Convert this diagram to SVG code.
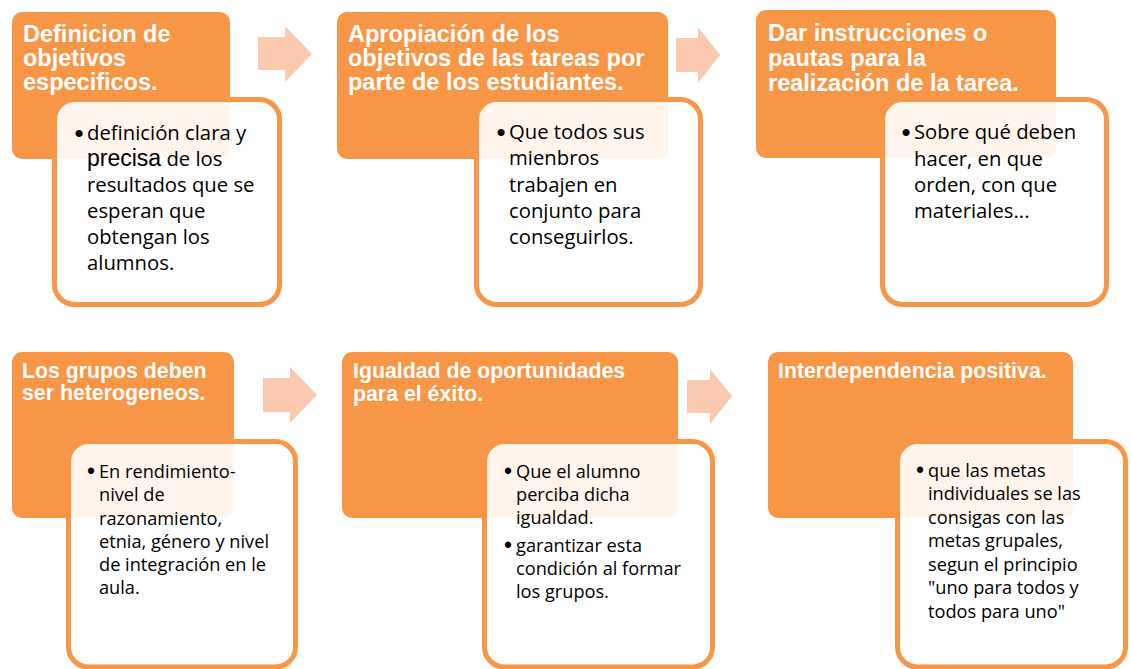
<svg xmlns="http://www.w3.org/2000/svg" width="1131" height="669" viewBox="0 0 1131 669">
<style>
.main{fill:#F79646;}
.sub{fill:#FFFFFF;fill-opacity:0.9;stroke:#F79646;stroke-width:5;}
.arrow{fill:#FAC9AE;}
.t1{font-family:"Liberation Sans",Arial,sans-serif;font-weight:bold;font-size:23.5px;fill:#FFFFFF;}
.t2{font-family:"Liberation Sans",Arial,sans-serif;font-weight:bold;font-size:21.3px;fill:#FFFFFF;}
.b1{font-family:"Open Sans",Lato,sans-serif;font-size:20.3px;fill:#000000;}
.b2{font-family:"Open Sans",Lato,sans-serif;font-size:18.2px;fill:#000000;}
.bu1{font-family:"Liberation Sans",Arial,sans-serif;font-size:26px;fill:#000000;}
.bu2{font-family:"Liberation Sans",Arial,sans-serif;font-size:23px;fill:#000000;}
</style>
<rect width="1131" height="669" fill="#FFFFFF"/>
<g id="connectors">
<polygon class="arrow" points="258,37 285,37 285,26 312,54 285,82 285,70 258,70"/>
<polygon class="arrow" points="676,38 698,38 698,27 720,55 698,83 698,72 676,72"/>
<polygon class="arrow" points="263,378 290,378 290,367 317,395 290,423 290,412 263,412"/>
<polygon class="arrow" points="687,380 710,380 710,369 732,396 710,424 710,413 687,413"/>
</g>
<g id="node1">
<rect class="main" x="12" y="12" width="218" height="147" rx="10"/>
<text class="t1"><tspan x="23" y="42">Definicion de</tspan><tspan x="23" y="66">objetivos</tspan><tspan x="23" y="90">especificos.</tspan></text>
<rect class="sub" x="54.5" y="99.5" width="225" height="205" rx="20"/>
<text class="bu1" x="74.5" y="142">•</text>
<text class="b1"><tspan x="87" y="140">definición clara y</tspan><tspan x="87" y="166"><tspan font-family="Liberation Sans" font-size="23">precisa</tspan> de los</tspan><tspan x="87" y="192">resultados que se</tspan><tspan x="87" y="218">esperan que</tspan><tspan x="87" y="244">obtengan los</tspan><tspan x="87" y="270">alumnos.</tspan></text>
</g>
<g id="node2">
<rect class="main" x="337" y="12" width="331" height="147" rx="10"/>
<text class="t1"><tspan x="348" y="42">Apropiación de los</tspan><tspan x="348" y="66">objetivos de las tareas por</tspan><tspan x="348" y="90">parte de los estudiantes.</tspan></text>
<rect class="sub" x="476.5" y="99.5" width="224" height="205" rx="20"/>
<text class="bu1" x="496.5" y="141">•</text>
<text class="b1"><tspan x="509" y="139">Que todos sus</tspan><tspan x="509" y="165">mienbros</tspan><tspan x="509" y="192">trabajen en</tspan><tspan x="509" y="218">conjunto para</tspan><tspan x="509" y="244">conseguirlos.</tspan></text>
</g>
<g id="node3">
<rect class="main" x="756" y="10" width="300" height="148" rx="10"/>
<text class="t1"><tspan x="768" y="41">Dar instrucciones o</tspan><tspan x="768" y="66">pautas para la</tspan><tspan x="768" y="91">realización de la tarea.</tspan></text>
<rect class="sub" x="882.5" y="99.5" width="224" height="205" rx="20"/>
<text class="bu1" x="901.5" y="141">•</text>
<text class="b1"><tspan x="914" y="139">Sobre qué deben</tspan><tspan x="914" y="166">hacer, en que</tspan><tspan x="914" y="192">orden, con que</tspan><tspan x="914" y="218">materiales...</tspan></text>
</g>
<g id="node4">
<rect class="main" x="12" y="352" width="222" height="166" rx="10"/>
<text class="t2"><tspan x="22" y="378">Los grupos deben</tspan><tspan x="22" y="400">ser heterogeneos.</tspan></text>
<rect class="sub" x="68.5" y="441.5" width="227" height="225.5" rx="20"/>
<text class="bu2" x="87" y="479">•</text>
<text class="b2"><tspan x="99" y="478">En rendimiento-</tspan><tspan x="99" y="501">nivel de</tspan><tspan x="99" y="525">razonamiento,</tspan><tspan x="99" y="548">etnia, género y nivel</tspan><tspan x="99" y="571">de integración en le</tspan><tspan x="99" y="594">aula.</tspan></text>
</g>
<g id="node5">
<rect class="main" x="342" y="352" width="336" height="166" rx="10"/>
<text class="t2"><tspan x="353" y="378">Igualdad de oportunidades</tspan><tspan x="353" y="401">para el éxito.</tspan></text>
<rect class="sub" x="484.5" y="441.5" width="228" height="225.5" rx="20"/>
<text class="bu2" x="504" y="479">•</text>
<text class="b2"><tspan x="516" y="478">Que el alumno</tspan><tspan x="516" y="501">perciba dicha</tspan><tspan x="516" y="524">igualdad.</tspan></text>
<text class="bu2" x="504" y="553">•</text>
<text class="b2"><tspan x="516" y="552">garantizar esta</tspan><tspan x="516" y="575">condición al formar</tspan><tspan x="516" y="598">los grupos.</tspan></text>
</g>
<g id="node6">
<rect class="main" x="768" y="352" width="305" height="166" rx="10"/>
<text class="t2"><tspan x="778" y="378">Interdependencia positiva.</tspan></text>
<rect class="sub" x="897.5" y="441.5" width="228" height="225.5" rx="20"/>
<text class="bu2" x="916" y="478">•</text>
<text class="b2"><tspan x="928" y="477">que las metas</tspan><tspan x="928" y="500">individuales se las</tspan><tspan x="928" y="524">consigas con las</tspan><tspan x="928" y="547">metas grupales,</tspan><tspan x="928" y="571">segun el principio</tspan><tspan x="928" y="594">"uno para todos y</tspan><tspan x="928" y="618">todos para uno"</tspan></text>
</g>
</svg>
